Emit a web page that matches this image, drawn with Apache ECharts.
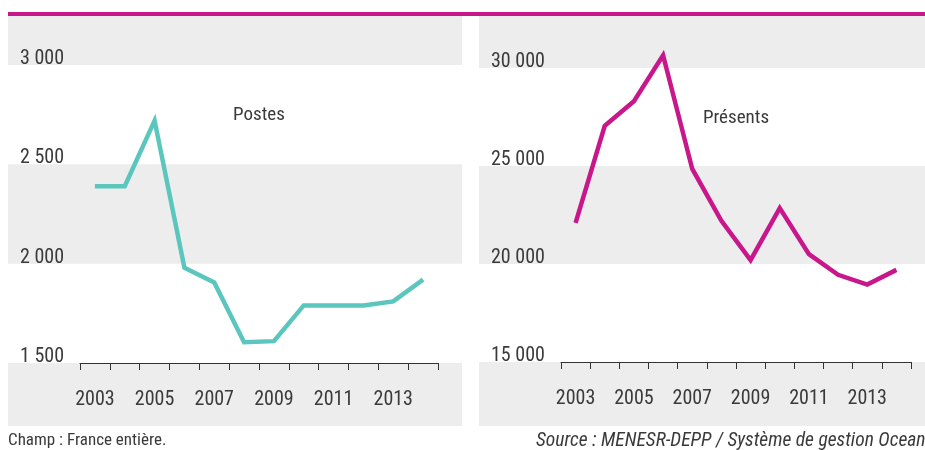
<!DOCTYPE html>
<html>
<head>
<meta charset="utf-8">
<script src="https://cdn.jsdelivr.net/npm/echarts@6/dist/echarts.min.js"></script>
<style>
html,body{margin:0;padding:0;background:#fff;}
#c{width:925px;height:450px;}
</style>
</head>
<body>
<div id="c"></div>
<script>
const years = ['2003','2004','2005','2006','2007','2008','2009','2010','2011','2012','2013','2014'];
const postes = [2390, 2390, 2720, 1980, 1905, 1605, 1610, 1790, 1790, 1790, 1810, 1920];
const presents = [22100, 27050, 28300, 30650, 24850, 22200, 20200, 22850, 20500, 19450, 18950, 19700];
const postesTicks = [1500, 2000, 2500, 3000];
const presentsTicks = [15000, 20000, 25000, 30000];
const titleLeft = 'Postes';
const titleRight = 'Présents';
const noteLeft = 'Champ : France entière.';
const noteRight = 'Source : MENESR-DEPP / Système de gestion Ocean';

const FONT = "'Roboto Condensed','Liberation Sans Narrow','DejaVu Sans Condensed','Arial Narrow',Roboto,sans-serif";
const TXT = '#3a3a3a';
const GREY = '#ededed';
const PINK = '#c8168b';
const TEAL = '#5bc6bd';

function fmt(v){ return String(v).replace(/\B(?=(\d{3})+(?!\d))/g, ' '); }

const chart = echarts.init(document.getElementById('c'), null, {renderer:'canvas'});

function yAxisData(ticks, gi){
  return {
    type:'value', gridIndex:gi,
    min:ticks[0], max:ticks[ticks.length-1], interval:ticks[1]-ticks[0],
    axisLine:{show:false}, axisTick:{show:false}, axisLabel:{show:false},
    splitLine:{show:false}, splitArea:{show:false}
  };
}
function yAxisBg(ticks, gi){
  return {
    type:'value', gridIndex:gi,
    min:ticks[0], max:ticks[ticks.length-1], interval:ticks[1]-ticks[0],
    axisLine:{show:false}, axisTick:{show:false},
    splitLine:{show:false},
    splitArea:{show:true, areaStyle:{color:['#ffffff','rgba(0,0,0,0)']}},
    axisLabel:{inside:true, formatter:fmt, color:TXT, fontFamily:FONT, fontSize:20,
      verticalAlign:'bottom', align:'left', margin:12, padding:[0,0,-4,0]}
  };
}
function xAxisData(gi){
  return {
    type:'category', gridIndex:gi, data:years, boundaryGap:true,
    axisLine:{show:true, lineStyle:{color:'#333', width:1}},
    axisTick:{show:true, interval:0, length:7, lineStyle:{color:'#333'}},
    axisLabel:{interval:1, color:TXT, fontFamily:FONT, fontSize:20, margin:27}
  };
}
function xAxisBg(gi){
  return {type:'value', gridIndex:gi, show:false, min:0, max:1};
}

chart.setOption({
  animation:false,
  graphic:[
    {type:'rect', z:-10, shape:{x:8,y:16,width:454,height:410}, style:{fill:GREY}, silent:true},
    {type:'rect', z:-10, shape:{x:479,y:16,width:446,height:410}, style:{fill:GREY}, silent:true},
    {type:'rect', z:10, shape:{x:8,y:12,width:917,height:4}, style:{fill:PINK}, silent:true},
    {type:'text', z:10, x:259, y:115, style:{text:titleLeft, font:'19px '+FONT, fill:TXT, textAlign:'center', textVerticalAlign:'middle'}},
    {type:'text', z:10, x:736, y:118, style:{text:titleRight, font:'19px '+FONT, fill:TXT, textAlign:'center', textVerticalAlign:'middle'}},
    {type:'text', z:10, x:8, y:441, style:{text:noteLeft, font:'17px '+FONT, fill:TXT, textAlign:'left', textVerticalAlign:'middle'}},
    {type:'text', z:10, x:536, y:441, style:{text:noteRight, font:'italic 19.5px '+FONT, fill:TXT, textAlign:'left', textVerticalAlign:'middle'}}
  ],
  grid:[
    {left:80, width:358, top:65, height:298},
    {left:561, width:350, top:68, height:294},
    {left:8, width:454, top:65, height:298},
    {left:479, width:446, top:68, height:294}
  ],
  xAxis:[xAxisData(0), xAxisData(1), xAxisBg(2), xAxisBg(3)],
  yAxis:[yAxisData(postesTicks,0), yAxisData(presentsTicks,1), yAxisBg(postesTicks,2), yAxisBg(presentsTicks,3)],
  series:[
    {type:'line', xAxisIndex:0, yAxisIndex:0, data:postes, symbol:'none', clip:false,
     lineStyle:{color:TEAL, width:4.5, join:'miter'}},
    {type:'line', xAxisIndex:1, yAxisIndex:1, data:presents, symbol:'none', clip:false,
     lineStyle:{color:PINK, width:4.5, join:'miter'}}
  ]
});
</script>
</body>
</html>
